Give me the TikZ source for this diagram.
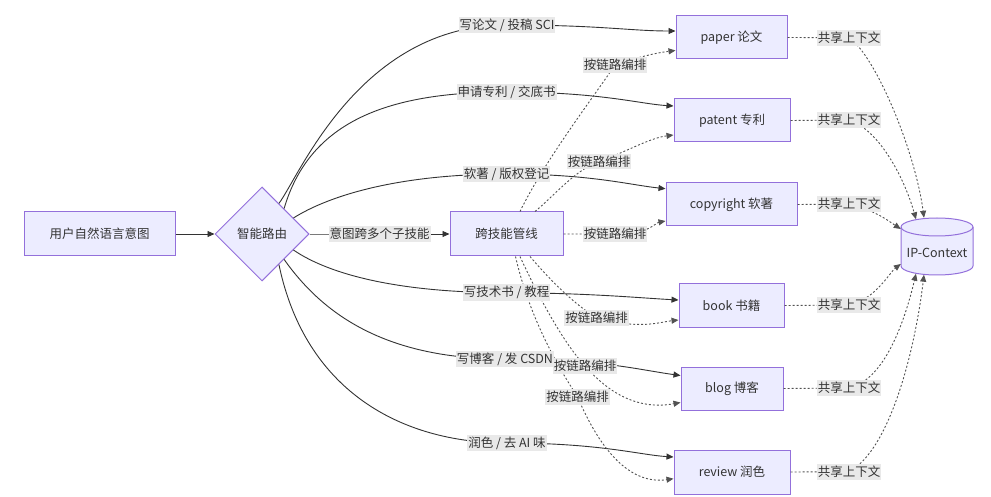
\documentclass[tikz,border=0pt]{standalone}
\usepackage{fontspec}
\setmainfont{Noto Sans CJK SC}
\usetikzlibrary{shapes.geometric,arrows.meta,calc}
\definecolor{nodefill}{HTML}{ECECFF}
\definecolor{nodeline}{HTML}{9370DB}
\definecolor{edgecol}{HTML}{333333}
\definecolor{labfill}{HTML}{E9E9E9}
\definecolor{txt}{HTML}{333333}
\begin{document}
\begin{tikzpicture}[x=1pt,y=-1pt,
  font=\fontsize{12.5pt}{15pt}\selectfont, text=txt,
  box/.style={draw=nodeline, fill=nodefill, line width=1pt, minimum height=43pt, inner sep=0pt},
  dia/.style={diamond, draw=nodeline, fill=nodefill, line width=1pt, minimum width=94pt, minimum height=94pt, inner sep=0pt},
  lab/.style={fill=labfill, inner xsep=1pt, inner ysep=2pt},
  solidarrow/.style={draw=edgecol, line width=0.9pt, -{Triangle[length=7pt,width=6pt]}},
  dotarrow/.style={draw=edgecol!85, line width=0.9pt, dash pattern=on 2pt off 2pt, -{Triangle[length=7pt,width=6pt]}},
]
\useasboundingbox (0,0) rectangle (991,497);

% nodes
\node[box, minimum width=151pt, minimum height=44pt] (user) at (99.5,234) {用户自然语言意图};
\node[dia] (router) at (262,234) {智能路由};
\node[box, minimum width=113pt, minimum height=44pt] (pipe) at (506.5,234) {跨技能管线};
\node[box, minimum width=111pt] (paper) at (731.5,37.5) {paper 论文};
\node[box, minimum width=116pt] (patent) at (732,120.5) {patent 专利};
\node[box, minimum width=131pt] (copyright) at (731.5,204.5) {copyright 软著};
\node[box, minimum width=105pt] (book) at (731.5,305.5) {book 书籍};
\node[box, minimum width=102pt] (blog) at (732,388.5) {blog 博客};
\node[box, minimum width=116pt, minimum height=44pt] (review) at (732,472) {review 润色};

% cylinder
\filldraw[draw=nodeline, fill=nodefill, line width=1pt] (901,227) -- (901,266)
  arc[start angle=180, end angle=360, x radius=36pt, y radius=9pt] -- (973,227)
  arc[start angle=0, end angle=180, x radius=36pt, y radius=9pt] -- cycle;
\draw[draw=nodeline, line width=1pt] (901,227) arc[start angle=180, end angle=360, x radius=36pt, y radius=9pt];
\node[minimum width=72pt, minimum height=57pt, inner sep=0pt, text height=26pt, text depth=3pt] (ip) at (937,246.5) {IP-Context};

% label positions
\coordinate (l0) at (379.5,234);
\coordinate (la) at (507,25);
\coordinate (lb) at (506.5,92);
\coordinate (lc) at (506.5,174);
\coordinate (ld) at (506.5,292.7);
\coordinate (le) at (505,359);
\coordinate (lf) at (507,443);
\coordinate (pa) at (615,65);
\coordinate (pb) at (599,161.7);
\coordinate (pc) at (615,234);
\coordinate (pd) at (596.5,317.7);
\coordinate (pe) at (585,365.7);
\coordinate (pf) at (577.5,396.7);
\coordinate (sa) at (849,37.7);
\coordinate (sb) at (849,120);
\coordinate (sc) at (849,204);
\coordinate (sd) at (849,305);
\coordinate (se) at (849,388);
\coordinate (sf) at (849,471.7);

% solid edges
\draw[solidarrow] (user.east) -- (router.west);
\draw[solidarrow] (router.east) -- (l0) -- (pipe.west);
\draw[solidarrow] (router.61) .. controls (300,175) and (360,25) .. (la) .. controls (600,25) and (630,31) .. ([yshift=6.5pt]paper.west);
\draw[solidarrow] (router.49) .. controls (310,120) and (390,92) .. (lb) .. controls (600,92) and (640,104) .. ([yshift=14.5pt]patent.west);
\draw[solidarrow] (router.27) .. controls (330,195) and (400,174) .. (lc) .. controls (590,174) and (630,185) .. ([yshift=15.8pt]copyright.west);
\draw[solidarrow] (router.-27) .. controls (330,275) and (400,292.7) .. (ld) .. controls (590,293) and (640,298) .. ([yshift=5.5pt]book.west);
\draw[solidarrow] (router.-49) .. controls (320,310) and (380,359) .. (le) .. controls (600,359) and (640,370) .. ([yshift=13pt]blog.west);
\draw[solidarrow] (router.-61) .. controls (305,390) and (400,443) .. (lf) .. controls (600,443) and (640,455) .. ([yshift=15pt]review.west);

% pipeline dotted edges
\draw[dotarrow] ([xshift=13.5pt]pipe.north) .. controls (545,160) and (595,95) .. (pa) .. controls (635,58) and (655,53) .. ([yshift=-13pt]paper.west);
\draw[dotarrow] ([xshift=28.5pt]pipe.north) .. controls (555,195) and (575,170) .. (pb) .. controls (630,150) and (650,138) .. ([yshift=-14.5pt]patent.west);
\draw[dotarrow] (pipe.east) -- (pc) .. controls (650,234) and (655,223) .. ([yshift=-16.5pt]copyright.west);
\draw[dotarrow] ([xshift=23.5pt]pipe.south) .. controls (550,280) and (575,305) .. (pd) .. controls (640,330) and (660,322) .. ([yshift=-14.5pt]book.west);
\draw[dotarrow] ([xshift=13.5pt]pipe.south) .. controls (540,300) and (565,345) .. (pe) .. controls (610,395) and (640,410) .. ([yshift=-14pt]blog.west);
\draw[dotarrow] ([xshift=9pt]pipe.south) .. controls (530,320) and (560,370) .. (pf) .. controls (600,450) and (630,485) .. ([yshift=-6.7pt]review.west);

% shared context edges
\draw[dotarrow] (paper.east) -- (sa) .. controls (875,55) and (915,150) .. ([xshift=-13pt]ip.north);
\draw[dotarrow] (patent.east) -- (sb) .. controls (880,130) and (905,180) .. ([xshift=-21pt,yshift=-1.5pt]ip.north);
\draw[dotarrow] (copyright.east) -- (sc) .. controls (875,210) and (890,222) .. ([yshift=17.5pt]ip.west);
\draw[dotarrow] (book.east) -- (sd) .. controls (875,300) and (890,272) .. ([yshift=-17.5pt]ip.west);
\draw[dotarrow] (blog.east) -- (se) .. controls (885,380) and (905,320) .. ([xshift=-21pt,yshift=1.5pt]ip.south);
\draw[dotarrow] (review.east) -- (sf) .. controls (890,450) and (915,350) .. ([xshift=-13pt,yshift=0.5pt]ip.south);

% labels
\node[lab] (t0) at (l0) {意图跨多个子技能};
\node[lab] (ta) at (la) {写论文 / 投稿 SCI};
\node[lab] (tb) at (lb) {申请专利 / 交底书};
\node[lab] (tc) at (lc) {软著 / 版权登记};
\node[lab] (td) at (ld) {写技术书 / 教程};
\node[lab] (te) at (le) {写博客 / 发 CSDN};
\node[lab] (tf) at (lf) {润色 / 去 AI 味};
\node[lab] (qa) at (pa) {按链路编排};
\node[lab] (qb) at (pb) {按链路编排};
\node[lab] (qc) at (pc) {按链路编排};
\node[lab] (qd) at (pd) {按链路编排};
\node[lab] (qe) at (pe) {按链路编排};
\node[lab] (qf) at (pf) {按链路编排};
\node[lab] (ra) at (sa) {共享上下文};
\node[lab] (rb) at (sb) {共享上下文};
\node[lab] (rc) at (sc) {共享上下文};
\node[lab] (rd) at (sd) {共享上下文};
\node[lab] (re) at (se) {共享上下文};
\node[lab] (rf) at (sf) {共享上下文};
\end{tikzpicture}
\end{document}
